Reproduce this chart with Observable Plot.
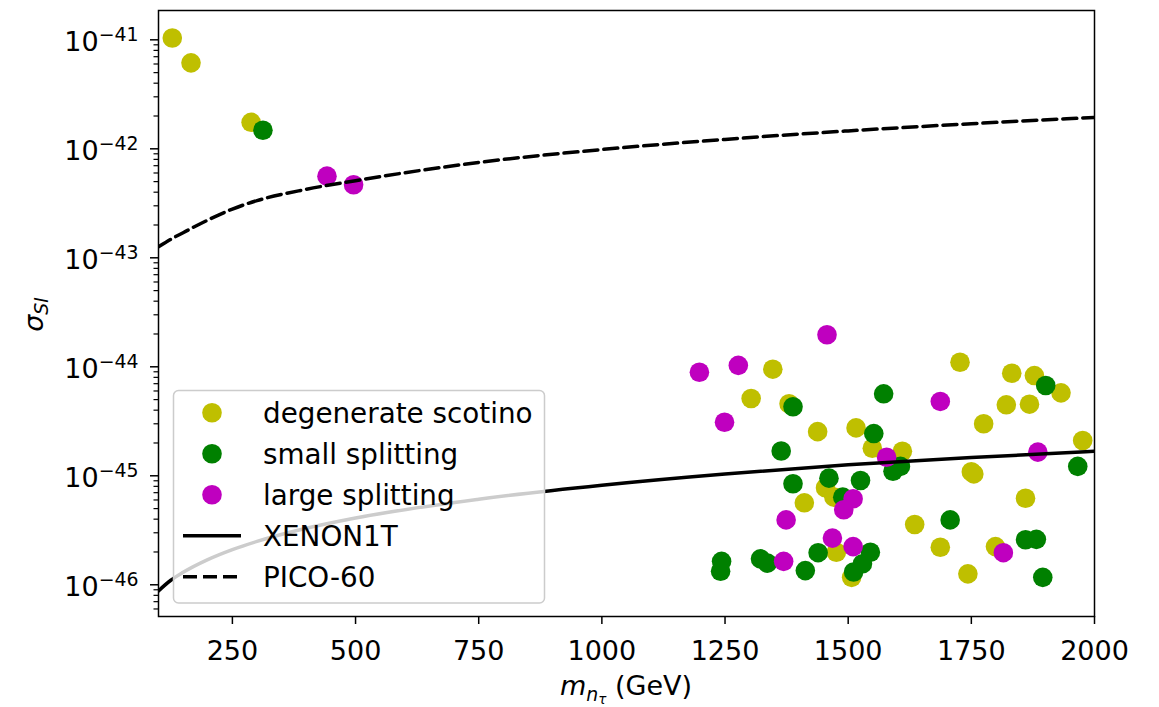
<!DOCTYPE html>
<html>
<head>
<meta charset="utf-8">
<script src="https://cdn.jsdelivr.net/npm/d3@7"></script>
<script src="https://cdn.jsdelivr.net/npm/@observablehq/plot@0.6"></script>
<style>
  html, body { margin: 0; padding: 0; background: #fff; }
  svg { display: block; }
</style>
</head>
<body>
<div id="chart"></div>
<script>
// ---- data ----
const yellowMass = [128,166,288,1347,1303,1380,1727,1832,1878,1932,1821,1868,1775,1438,1516,1549,1610,1976,1750,1755,1454,1411,1471,1860,1635,1476,1507,1687,1799,1743];
const yellowSigma = [1.04e-41,6.15e-42,1.75e-42,9.51e-45,5.12e-45,4.58e-45,1.10e-44,8.73e-45,8.31e-45,5.77e-45,4.48e-45,4.54e-45,3.00e-45,2.54e-45,2.75e-45,1.79e-45,1.68e-45,2.11e-45,1.09e-45,1.04e-45,7.76e-46,5.65e-46,6.37e-46,6.22e-46,3.57e-46,1.99e-46,1.17e-46,2.21e-46,2.24e-46,1.26e-46];

const greenMass = [312,1388,1364,1388,1243,1241,1322,1336,1572,1901,1552,1591,1606,1966,1461,1525,1489,1707,1860,1882,1439,1545,1529,1511,1413,1895];
const greenSigma = [1.48e-42,4.30e-45,1.69e-45,8.45e-46,1.64e-46,1.33e-46,1.73e-46,1.58e-46,5.65e-45,6.73e-45,2.44e-45,1.10e-45,1.22e-45,1.22e-45,9.51e-46,9.06e-46,6.37e-46,3.94e-46,2.59e-46,2.61e-46,1.97e-46,1.99e-46,1.56e-46,1.31e-46,1.35e-46,1.17e-46];

const magentaMass = [442,496,1198,1277,1249,1457,1687,1578,1885,1510,1491,1374,1468,1510,1369,1815];
const magentaSigma = [5.61e-43,4.68e-43,8.91e-45,1.03e-44,3.10e-45,1.97e-44,4.81e-45,1.48e-45,1.65e-45,6.15e-46,4.88e-46,3.94e-46,2.68e-46,2.24e-46,1.64e-46,1.97e-46];

const xenonMass = [100,125,150,200,250,300,400,500,750,1000,1250,1500,1750,2000];
const xenonSigma = [8.8e-47,1.1e-46,1.3e-46,1.7e-46,2.1e-46,2.5e-46,3.3e-46,4.1e-46,6.1e-46,8.2e-46,1.04e-45,1.26e-45,1.47e-45,1.68e-45];

const picoMass = [100,125,150,200,250,300,400,500,750,1000,1250,1500,1750,2000];
const picoSigma = [1.26e-43,1.48e-43,1.70e-43,2.22e-43,2.8e-43,3.35e-43,4.25e-43,5.1e-43,7.5e-43,9.85e-43,1.22e-42,1.46e-42,1.70e-42,1.94e-42];

const xTicks = [250,500,750,1000,1250,1500,1750,2000];
const yExponents = [-46,-45,-44,-43,-42,-41];

const seriesNames = ["degenerate scotino","small splitting","large splitting"];
const seriesColors = ["#bfbf00","#008000","#bf00bf"];
const lineNames = ["XENON1T","PICO-60"];

// ---- build tables ----
const zip = (ms, ss) => ms.map((m, i) => ({m, s: ss[i]}));
const yellow = zip(yellowMass, yellowSigma);
const green = zip(greenMass, greenSigma);
const magenta = zip(magentaMass, magentaSigma);
const xenon = zip(xenonMass, xenonSigma);
const pico = zip(picoMass, picoSigma);

const yLo = Math.pow(10, -46.291), yHi = Math.pow(10, -40.731);
const majorY = yExponents.map(e => Math.pow(10, e));
const minorY = [];
for (let e = -47; e <= -41; e++) for (let k = 2; k <= 9; k++) {
  const v = k * Math.pow(10, e);
  if (v > yLo && v < yHi) minorY.push(v);
}

const FS = 27;
const LFS = 27.8;
const W = 1159, H = 707, ML = 158, MR = 65, MT = 10, MB = 91;

const svg = Plot.plot({
  width: W, height: H,
  marginLeft: ML, marginRight: MR, marginTop: MT, marginBottom: MB,
  style: {fontFamily: "DejaVu Sans", fontSize: FS + "px", color: "black", background: "white"},
  x: {domain: [100, 2000]},
  y: {type: "log", domain: [yLo, yHi]},
  marks: [
    Plot.dot(yellow, {x: "m", y: "s", r: 9.8, fill: seriesColors[0]}),
    Plot.dot(green, {x: "m", y: "s", r: 9.8, fill: seriesColors[1]}),
    Plot.dot(magenta, {x: "m", y: "s", r: 9.8, fill: seriesColors[2]}),
    Plot.line(xenon, {x: "m", y: "s", stroke: "black", strokeWidth: 3.5, curve: "monotone-x", clip: true}),
    Plot.line(pico, {x: "m", y: "s", stroke: "black", strokeWidth: 3.5, strokeDasharray: "14,6", curve: "monotone-x", clip: true}),
    Plot.axisX({ticks: xTicks, tickSize: 8, tickPadding: 16, strokeWidth: 1.5, label: null, tickFormat: d => String(d)}),
    Plot.axisY({ticks: majorY, tickSize: 8, tickPadding: 12, strokeWidth: 1.5, label: null,
      tickFormat: d => String(Math.round(Math.log10(d)))}),
    Plot.axisY({ticks: minorY, tickSize: 4.5, strokeWidth: 1.2, label: null, tickFormat: () => ""}),
    Plot.frame({stroke: "black", strokeWidth: 1.5})
  ]
});

document.getElementById("chart").appendChild(svg);
const s = d3.select(svg);

// y tick labels as 10^{-n}
s.selectAll('g[aria-label="y-axis tick label"] text').each(function() {
  const t = this.textContent.trim();
  if (!t) return;
  const exp = "\u2212" + t.replace(/^[-\u2212]/, "");
  const el = d3.select(this);
  el.text(null).attr("y", null).attr("dy", null);
  el.append("tspan").attr("dy", 11.6).text("10");
  el.append("tspan").attr("dy", -10.5).attr("font-size", FS * 0.7).text(exp);
});

// axis labels
const xl = s.append("text")
  .attr("x", 626).attr("y", 695)
  .attr("text-anchor", "middle")
  .attr("font-family", "DejaVu Sans").attr("font-size", FS)
  .style("white-space", "pre");
xl.append("tspan").attr("font-style", "italic").text("m");
xl.append("tspan").attr("font-style", "italic").attr("font-size", FS * 0.7).attr("dy", 5.5).text("n");
xl.append("tspan").attr("font-style", "italic").attr("font-size", FS * 0.5).attr("dy", 3.5).text("\u03C4");
xl.append("tspan").attr("dy", -9).text(" (GeV)");

const yl = s.append("text")
  .attr("transform", "translate(43,314.5) rotate(-90)")
  .attr("text-anchor", "middle")
  .attr("font-family", "DejaVu Sans").attr("font-size", FS);
yl.append("tspan").attr("font-style", "italic").text("\u03C3");
yl.append("tspan").attr("font-style", "italic").attr("font-size", FS * 0.7).attr("dy", 5).text("SI");

// legend
const lg = s.append("g").attr("font-family", "DejaVu Sans").attr("font-size", LFS).attr("text-anchor", "start");
lg.append("rect").attr("x", 173.5).attr("y", 390.5).attr("width", 371).attr("height", 212.5)
  .attr("rx", 5).attr("fill", "white").attr("fill-opacity", 0.8)
  .attr("stroke", "#cccccc").attr("stroke-width", 1.5);
const rowY = [412.7, 453.7, 494.7, 535.7, 576.7];
seriesNames.forEach((name, i) => {
  lg.append("circle").attr("cx", 212).attr("cy", rowY[i]).attr("r", 9.8).attr("fill", seriesColors[i]);
  lg.append("text").attr("x", 263).attr("y", rowY[i] + 9.8).text(name);
});
lineNames.forEach((name, j) => {
  const y = rowY[3 + j];
  lg.append("line").attr("x1", 183).attr("x2", 241).attr("y1", y).attr("y2", y)
    .attr("stroke", "black").attr("stroke-width", 3.5)
    .attr("stroke-dasharray", j === 1 ? "14,6" : null);
  lg.append("text").attr("x", 263).attr("y", y + 9.8).text(name);
});
</script>
</body>
</html>
